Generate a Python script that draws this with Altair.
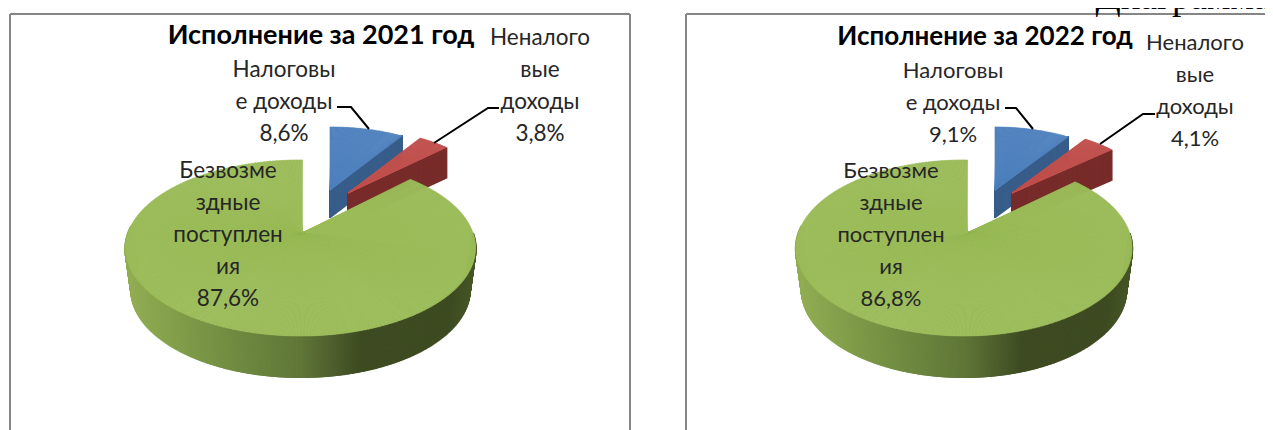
import numpy as np
import pandas as pd
import altair as alt

# --- values (tax, non-tax, gratuitous), percent
years = ["2021", "2022"]
tax_share = [8.6, 9.1]
nontax_share = [3.8, 4.1]
gratuitous_share = [87.6, 86.8]
share_text = [["8,6%", "3,8%", "87,6%"], ["9,1%", "4,1%", "86,8%"]]
label_tax = ["Налоговы", "е доходы"]
label_nontax = ["Неналого", "вые", "доходы"]
label_free = ["Безвозме", "здные", "поступлен", "ия"]

# --- layout in reference pixels (the page leaves 1257 px of width)
W, H = 1265, 430
BACK_SQUEEZE = 0.87  # perspective squeeze of the rear of the big slice
x_s = alt.Scale(domain=[8, W], range=[0, W - 8])
y_s = alt.Scale(domain=[8, H], range=[0, H - 8])
X = lambda f: alt.X(f, type="quantitative", scale=x_s, axis=None)
Y = lambda f: alt.Y(f, type="quantitative", scale=y_s, axis=None)

panels = [
    dict(apex=(302, 233), c=(300.5, 248), a=175, b=88, bot=(300.5, 290), a2=169,
         blue=(330, 190), red=(348, 193), ra=140, fs=22.5, tfs=27,
         title=(321, 36), t_non=(540, 38), t_tax=(284, 70), t_free=(228, 171),
         lead=[[(337, 107), (351, 107), (369, 129)], [(499, 108), (488, 108), (434, 143)]]),
    dict(apex=(967, 233), c=(964, 248), a=168, b=88, bot=(964, 290), a2=162,
         blue=(995, 190), red=(1012, 193), ra=135, fs=22, tfs=26,
         title=(985, 37), t_non=(1195, 43), t_tax=(953, 71), t_free=(891, 171),
         lead=[[(1005, 108), (1016, 108), (1033, 129)], [(1155, 114), (1143, 114), (1100, 144)]]),
]


def wedges(apex, center, a, b, phi0, phi1, color):
    """Thin sectors from the apex to an ellipse, phi measured clockwise from the top."""
    phis = np.radians(np.append(np.arange(phi0, phi1, 0.5), phi1))
    px = center[0] + a * np.sin(phis)
    py = center[1] - b * np.cos(phis)
    th = np.unwrap(np.arctan2(px - apex[0], apex[1] - py))
    r = np.hypot(px - apex[0], py - apex[1])
    return pd.DataFrame({
        "x": apex[0], "y": apex[1], "t0": th[:-1], "t1": th[1:],
        "r": (r[:-1] + r[1:]) / 2, "c": color,
    })


def side_color(x, x0, a):
    u = (x - x0) / a
    stops = [-1.0, -0.5, 0.0, 0.35, 0.85, 1.0]
    rgb = np.array([[146, 174, 84], [118, 146, 68], [96, 118, 56], [62, 75, 34], [62, 75, 34], [72, 88, 40]])
    return "#%02x%02x%02x" % tuple(int(np.interp(u, stops, rgb[:, i])) for i in range(3))


wedge_rows, rule_rows, wall_rows, line_rows, text_rows = [], [], [], [], []
order = 0
for i, p in enumerate(panels):
    blue_deg = tax_share[i] * 3.6
    red_deg = nontax_share[i] * 3.6
    free_start = (100 - gratuitous_share[i]) * 3.6 * BACK_SQUEEZE
    free_end = 360 + np.degrees(np.arcsin((p["apex"][0] + 0.5 - p["c"][0]) / p["a"]))
    for apex, d0, d1, col_top, col_wall, depth in (
        (p["blue"], 0, blue_deg, "#4f81bd", "#385d8a", 28),
        (p["red"], blue_deg, blue_deg + red_deg, "#c0504d", "#772c2a", 31),
    ):
        end = np.radians(d1)
        ex, ey = apex[0] + p["ra"] * np.sin(end), apex[1] - 64 * np.cos(end)
        for u in np.linspace(0, 1, 120):
            wall_rows.append(dict(x=apex[0] + u * (ex - apex[0]), y=apex[1] + u * (ey - apex[1]),
                                  x2=apex[0] + u * (ex - apex[0]), y2=apex[1] + u * (ey - apex[1]) + depth,
                                  c=col_wall, o=order))
        w = wedges(apex, apex, p["ra"], 64 if col_top != "#4f81bd" else 63, d0, d1, col_top)
        w["o"] = order
        wedge_rows.append(w)
        order += 1
    for deg in np.arange(80, 285, 0.4):
        ph = np.radians(deg)
        x1, y1 = p["c"][0] + p["a"] * np.sin(ph), p["c"][1] - p["b"] * np.cos(ph)
        x2, y2 = p["bot"][0] + p["a2"] * np.sin(ph), p["bot"][1] - p["b"] * np.cos(ph)
        rule_rows.append(dict(x=x1, y=y1, x2=x2, y2=y2, c=side_color(x1, p["c"][0], p["a"])))
    w = wedges(p["apex"], p["c"], p["a"], p["b"], free_start, free_end, "#9bbb59")
    wedge_rows.append(w.assign(o=100 + i))
    for j, path in enumerate(p["lead"]):
        for k, (lx, ly) in enumerate(path):
            line_rows.append(dict(x=lx, y=ly, id=f"{i}-{j}", k=k))

    def block(anchor, lines, pct):
        for n, t in enumerate(lines + [pct]):
            text_rows.append(dict(x=anchor[0], y=anchor[1] + n * 32, t=t, fs=p["fs"]))
    block(p["t_tax"], label_tax, share_text[i][0])
    block(p["t_non"], label_nontax, share_text[i][1])
    block(p["t_free"], label_free, share_text[i][2])

wedge_df = pd.concat(wedge_rows, ignore_index=True)
wall_df = pd.DataFrame(wall_rows)
rule_df = pd.DataFrame(rule_rows)
line_df = pd.DataFrame(line_rows)
text_df = pd.DataFrame(text_rows)
title_df = pd.DataFrame([dict(x=p["title"][0], y=p["title"][1], t=f"Исполнение за {years[i]} год", fs=p["tfs"])
                         for i, p in enumerate(panels)])
frame_df = pd.DataFrame([
    dict(x=10, y=14, x2=630, y2=14), dict(x=10, y=14, x2=10, y2=H), dict(x=630, y=14, x2=630, y2=H),
    dict(x=686, y=14, x2=W, y2=14), dict(x=686, y=14, x2=686, y2=H),
])
corner_df = pd.DataFrame([dict(x=1270, y=9, t="Диаграмма")])


def rule_layer(df, width):
    return alt.Chart(df).mark_rule(strokeWidth=width).encode(
        x=X("x"), y=Y("y"), x2="x2:Q", y2="y2:Q", color=alt.Color("c:N", scale=None))


def wedge_layer(df):
    return alt.Chart(df).mark_arc(strokeWidth=0.7).encode(
        x=X("x"), y=Y("y"),
        theta=alt.Theta("t0:Q", scale=None), theta2="t1:Q",
        radius=alt.Radius("r:Q", scale=None),
        color=alt.Color("c:N", scale=None), stroke=alt.Stroke("c:N", scale=None))


layers = [
    alt.Chart(frame_df).mark_rule(strokeWidth=2, color="#868686").encode(x=X("x"), y=Y("y"), x2="x2:Q", y2="y2:Q"),
]
for o in sorted(wedge_df["o"].unique()):
    if o >= 100:
        continue
    layers.append(rule_layer(wall_df[wall_df.o == o], 2))
    layers.append(wedge_layer(wedge_df[wedge_df.o == o]))
layers.append(rule_layer(rule_df, 2.5))
layers.append(wedge_layer(wedge_df[wedge_df.o >= 100]))
layers.append(alt.Chart(line_df).mark_line(color="#000000", strokeWidth=2).encode(
    x=X("x"), y=Y("y"), detail="id:N", order="k:Q"))
layers.append(alt.Chart(text_df).mark_text(font="Lato", color="#262626", align="center", baseline="middle").encode(
    x=X("x"), y=Y("y"), text="t:N", size=alt.Size("fs:Q", scale=None)))
layers.append(alt.Chart(title_df).mark_text(font="Lato", fontWeight="bold", color="#000000", align="center", baseline="middle").encode(
    x=X("x"), y=Y("y"), text="t:N", size=alt.Size("fs:Q", scale=None)))
layers.append(alt.Chart(corner_df).mark_text(font="Liberation Serif", fontSize=37, color="#000000", align="right", baseline="alphabetic").encode(
    x=X("x"), y=Y("y"), text="t:N"))

chart = alt.layer(*layers).properties(
    width=W - 8, height=H - 8, padding=0, background="white",
    autosize=alt.AutoSizeParams(type="none", contains="padding"),
).configure_view(stroke=None)

chart.save("out.html", embed_options={"renderer": "svg", "actions": False})
